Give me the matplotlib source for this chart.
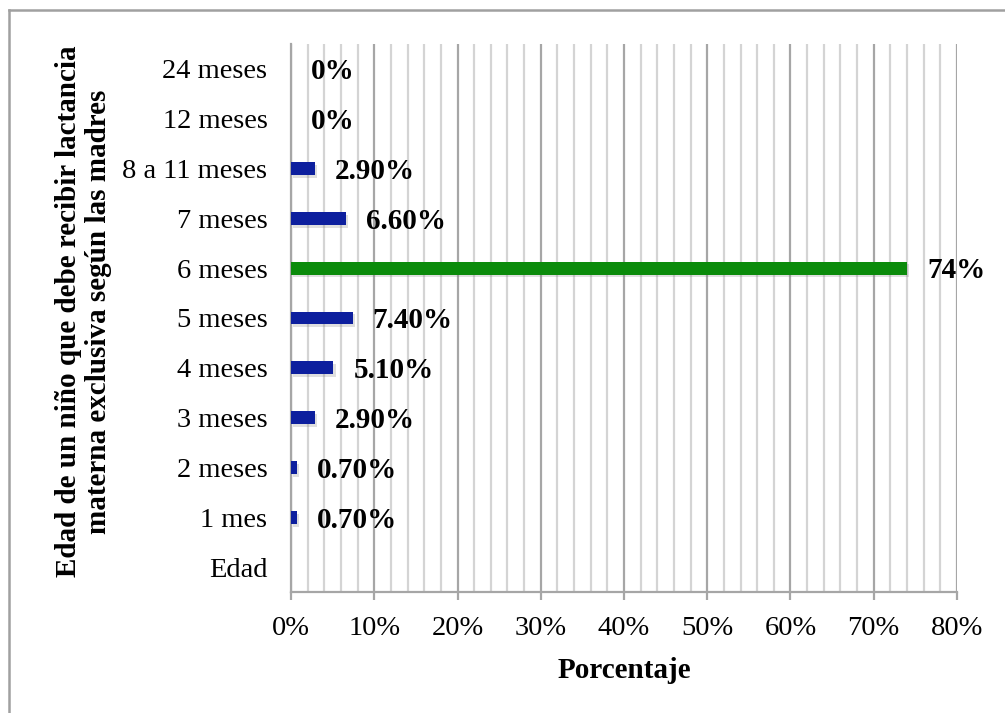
"""Edad de lactancia materna exclusiva según las madres: barras horizontales."""
import matplotlib
matplotlib.use("Agg")
import matplotlib.pyplot as plt
import matplotlib.patheffects as pe
from matplotlib.lines import Line2D
from matplotlib.ticker import FuncFormatter, MultipleLocator

# categories bottom -> top
categorias = ["Edad", "1 mes", "2 meses", "3 meses", "4 meses", "5 meses",
              "6 meses", "7 meses", "8 a 11 meses", "12 meses", "24 meses"]
porcentajes = [None, 0.70, 0.70, 2.90, 5.10, 7.40, 74.0, 6.60, 2.90, 0.0, 0.0]
etiquetas = [None, "0.70%", "0.70%", "2.90%", "5.10%", "7.40%", "74%",
             "6.60%", "2.90%", "0%", "0%"]
destacada = "6 meses"

AZUL = "#0D1F9E"
VERDE = "#0B8B0B"

plt.rcParams.update({
    "font.family": ["Liberation Serif", "DejaVu Serif"],
    "font.size": 20.5,
})

fig = plt.figure(figsize=(10.05, 7.13), dpi=100)
ax = fig.add_axes([0.2896, 0.1697, 0.9522 - 0.2896, 0.9383 - 0.1697])

pos = list(range(len(categorias)))
vals = [v if v is not None else 0 for v in porcentajes]
colores = [VERDE if c == destacada else AZUL for c in categorias]
bars = ax.barh(pos, vals, height=0.26, color=colores, zorder=3)
for b in bars:
    b.set_path_effects([
        pe.SimplePatchShadow(offset=(1.5, -2), shadow_rgbFace="#808080", alpha=0.25),
        pe.Normal(),
    ])

for p, v, lab in zip(pos, vals, etiquetas):
    if lab is None:
        continue
    ax.annotate(lab, (v, p), xytext=(14.4, -2), textcoords="offset points",
                ha="left", va="center", fontweight="bold", fontsize=21, zorder=4)

ax.set_xlim(0, 80)
ax.set_ylim(-0.5, len(categorias) - 0.5)
ax.set_yticks(pos)
ax.set_yticklabels(categorias, va="center_baseline")
ax.xaxis.set_major_locator(MultipleLocator(10))
ax.xaxis.set_minor_locator(MultipleLocator(2))
ax.xaxis.set_major_formatter(FuncFormatter(lambda x, _: f"{x:.0f}%"))

ax.grid(axis="x", which="minor", color="#D4D4D4", lw=1.6, zorder=0)
ax.grid(axis="x", which="major", color="#A6A6A6", lw=1.6, zorder=1)
ax.tick_params(axis="x", which="major", length=6, width=1.6, color="#A6A6A6", pad=11)
ax.tick_params(axis="x", which="minor", length=0)
ax.tick_params(axis="y", length=0, pad=17)

for s in ("top", "right"):
    ax.spines[s].set_visible(False)
for s in ("left", "bottom"):
    ax.spines[s].set_color("#A6A6A6")
    ax.spines[s].set_linewidth(1.6)

ax.set_xlabel("Porcentaje", fontweight="bold", fontsize=21, labelpad=12)
fig.text(0.083, 0.563, "Edad de un niño que debe recibir lactancia\nmaterna exclusiva según las madres",
         rotation=90, ha="center", va="center", fontweight="bold", fontsize=21,
         linespacing=1.15)

# outer chart frame (left and top edges)
fig.add_artist(Line2D([0.009, 0.009], [0.0, 0.986], color="#A0A0A0", lw=1.8))
fig.add_artist(Line2D([0.009, 1.0], [0.986, 0.986], color="#A0A0A0", lw=1.8))

fig.savefig("out.png", dpi=100)
